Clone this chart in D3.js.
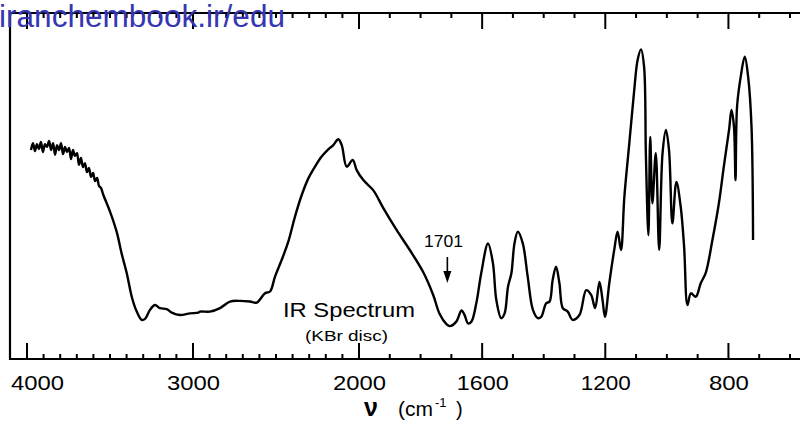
<!DOCTYPE html>
<html>
<head>
<meta charset="utf-8">
<script src="https://cdn.jsdelivr.net/npm/d3@7"></script>
<style>
  body { margin: 0; background: #fff; }
  svg { display: block; font-family: "Liberation Sans", Arial, sans-serif; }
</style>
</head>
<body>
<div id="chart"></div>
<script>
// wavenumber (cm-1) and transmittance (%)
const wavenumber = [
  3976, 3964, 3952, 3940, 3928, 3916, 3904, 3892, 3880, 3867, 3855, 3843, 3831, 3819, 3807, 3795,
  3783, 3771, 3759, 3747, 3735, 3723, 3711, 3699, 3687, 3675, 3663, 3651, 3639, 3627, 3614, 3602,
  3590, 3578, 3566, 3554, 3540, 3500, 3460, 3430, 3399, 3369, 3339, 3309, 3289, 3259, 3229, 3199,
  3158, 3128, 3078, 3018, 2968, 2958, 2898, 2837, 2777, 2717, 2657, 2616, 2566, 2536, 2506, 2466,
  2426, 2386, 2345, 2305, 2265, 2225, 2185, 2155, 2125, 2104, 2074, 2038, 2014, 1986, 1954, 1921,
  1878, 1835, 1792, 1759, 1738, 1716, 1705, 1684, 1667, 1657, 1646, 1635, 1619, 1603, 1581, 1565,
  1554, 1538, 1527, 1516, 1505, 1495, 1484, 1468, 1452, 1435, 1419, 1408, 1392, 1381, 1371, 1360,
  1349, 1338, 1322, 1306, 1284, 1262, 1246, 1233, 1219, 1209, 1201, 1187, 1171, 1160, 1149, 1138,
  1122, 1106, 1095, 1084, 1074, 1068, 1060, 1054, 1047, 1036, 1025, 1014, 1003, 993, 982, 969,
  955, 944, 933, 922, 906, 890, 874, 852, 831, 815, 798, 790, 782, 777, 772, 760,
  747, 736, 725, 720
];
const transmittance = [
  60.4, 62.4, 60.1, 62.1, 60.7, 62.7, 59.8, 62.1, 61.3, 63.0, 60.4, 62.4, 59.0, 61.8, 60.4, 62.4,
  59.2, 61.3, 59.8, 61.0, 57.8, 60.4, 58.7, 59.5, 56.1, 58.1, 55.5, 56.6, 54.0, 55.2, 52.6, 53.8,
  51.4, 52.3, 50.0, 49.4, 47.4, 42.6, 36.8, 30.5, 24.8, 18.0, 13.7, 11.3, 11.6, 14.2, 15.6, 14.7,
  14.4, 13.4, 12.7, 13.2, 13.4, 13.7, 13.7, 14.7, 16.6, 16.8, 16.6, 16.3, 19.0, 19.5, 23.8, 28.6,
  33.9, 41.1, 47.4, 52.2, 55.6, 58.5, 60.6, 61.8, 63.5, 61.8, 55.6, 57.5, 54.6, 51.7, 48.8, 43.6,
  37.3, 31.5, 25.2, 18.5, 13.0, 10.1, 9.5, 10.8, 14.0, 12.7, 10.3, 10.8, 16.1, 24.8, 33.4, 27.7,
  17.1, 11.8, 13.2, 20.9, 24.8, 33.4, 36.8, 33.4, 23.8, 14.2, 11.8, 12.2, 16.1, 16.6, 22.8, 26.7,
  21.9, 14.7, 13.7, 11.3, 12.7, 19.9, 18.5, 14.7, 22.3, 17.1, 12.2, 21.9, 31.5, 36.8, 31.5, 46.9,
  62.3, 77.7, 86.4, 89.5, 84.5, 58.5, 35.8, 64.2, 45.0, 59.5, 31.5, 59.5, 66.2, 60.4, 39.2, 51.2,
  44.0, 32.5, 15.6, 19.0, 18.0, 21.9, 24.8, 34.4, 45.0, 55.6, 66.2, 72.0, 67.1, 51.7, 72.9, 81.6,
  87.4, 81.6, 67.1, 34.4
];
const majorTicks = [4000, 3000, 2000, 1600, 1200, 800];
const minorTicks = [3900, 3800, 3700, 3600, 3500, 3400, 3300, 3200, 3100, 2900, 2800, 2700, 2600,
  2500, 2400, 2300, 2200, 2100, 1900, 1800, 1700, 1500, 1400, 1300, 1100, 1000, 900, 700, 600];
const majorLabelWidth = {4000: 53, 3000: 53, 2000: 53, 1600: 52, 1200: 50, 800: 40};

const width = 800, height = 423;
const yTop = 13, yBottom = 359;
const svg = d3.select("#chart").append("svg")
    .attr("width", width)
    .attr("height", height);

// IR axis: compressed above 2000 cm-1, expanded below
const x = d3.scaleLinear().domain([4000, 2000, 600]).range([27, 359, 790]);
const y = d3.scaleLinear().domain([0, 100]).range([yBottom, yTop]);

// frame (top, left, bottom; no right edge)
svg.append("path")
    .attr("d", `M800,${yTop}H10V${yBottom}H800`)
    .attr("fill", "none").attr("stroke", "#000").attr("stroke-width", 2.2);

// tick marks on bottom and top edges, pointing inward
function drawTicks(values, len, cls) {
    svg.selectAll(".b" + cls).data(values).join("rect")
        .attr("class", "b" + cls)
        .attr("x", d => x(d) - 1).attr("y", yBottom - len)
        .attr("width", 2).attr("height", len)
        .attr("fill", "#000");
    svg.selectAll(".t" + cls).data(values).join("rect")
        .attr("class", "t" + cls)
        .attr("x", d => x(d) - 1).attr("y", yTop)
        .attr("width", 2).attr("height", len)
        .attr("fill", "#000");
}
drawTicks(minorTicks, 5, "minor");
drawTicks(majorTicks, 16, "major");

// tick labels via axis (no tick lines)
svg.append("g")
    .attr("transform", `translate(0,${yBottom})`)
    .call(d3.axisBottom(x).tickValues(majorTicks).tickSize(0).tickPadding(16).tickFormat(d3.format("d")))
    .call(g => g.select(".domain").remove())
    .call(g => g.selectAll("text")
        .attr("fill", "#000")
        .attr("font-size", 21)
        .attr("font-family", "Liberation Sans, Arial, sans-serif")
        .attr("textLength", d => majorLabelWidth[d])
        .attr("lengthAdjust", "spacingAndGlyphs")
        .attr("dx", d => d === 4000 ? 10 : 0));

// spectrum
const points = wavenumber.map((w, i) => [w, transmittance[i]]);
const spectrumLine = d3.line()
    .x(d => x(d[0]))
    .y(d => y(d[1]))
    .curve(d3.curveCatmullRom.alpha(0.5));
svg.append("path")
    .datum(points)
    .attr("d", spectrumLine)
    .attr("fill", "none")
    .attr("stroke", "#000")
    .attr("stroke-width", 2.4)
    .attr("stroke-linejoin", "round");

// annotation 1701 with arrow
const arrowAt = 1713;
svg.append("text")
    .attr("x", 424).attr("y", 247)
    .attr("font-size", 16.5)
    .attr("textLength", 39).attr("lengthAdjust", "spacingAndGlyphs")
    .text("1701");
svg.append("rect")
    .attr("x", x(arrowAt) - 0.8).attr("y", 257)
    .attr("width", 1.6).attr("height", 16)
    .attr("fill", "#000");
svg.append("path")
    .attr("d", d3.line()([[x(arrowAt) - 4, 271], [x(arrowAt) + 4, 271], [x(arrowAt), 283]]))
    .attr("fill", "#000");

// captions
svg.append("text")
    .attr("x", 283).attr("y", 317)
    .attr("font-size", 21)
    .attr("textLength", 132).attr("lengthAdjust", "spacingAndGlyphs")
    .text("IR Spectrum");
svg.append("text")
    .attr("x", 305).attr("y", 341)
    .attr("font-size", 14.5)
    .attr("textLength", 83).attr("lengthAdjust", "spacingAndGlyphs")
    .text("(KBr disc)");

// axis title: ν (cm-1)
svg.append("text").attr("x", 364).attr("y", 416).attr("font-size", 25)
    .attr("font-weight", "bold").text("ν");
svg.append("text").attr("x", 398).attr("y", 416).attr("font-size", 20)
    .attr("textLength", 35).attr("lengthAdjust", "spacingAndGlyphs").text("(cm");
svg.append("text").attr("x", 435).attr("y", 407).attr("font-size", 13).text("-1");
svg.append("text").attr("x", 456).attr("y", 416).attr("font-size", 20).text(")");

// watermark
svg.append("text")
    .attr("x", -1).attr("y", 27)
    .attr("font-size", 31)
    .attr("fill", "#3636b5")
    .attr("textLength", 286).attr("lengthAdjust", "spacingAndGlyphs")
    .text("iranchembook.ir/edu");
</script>
</body>
</html>
